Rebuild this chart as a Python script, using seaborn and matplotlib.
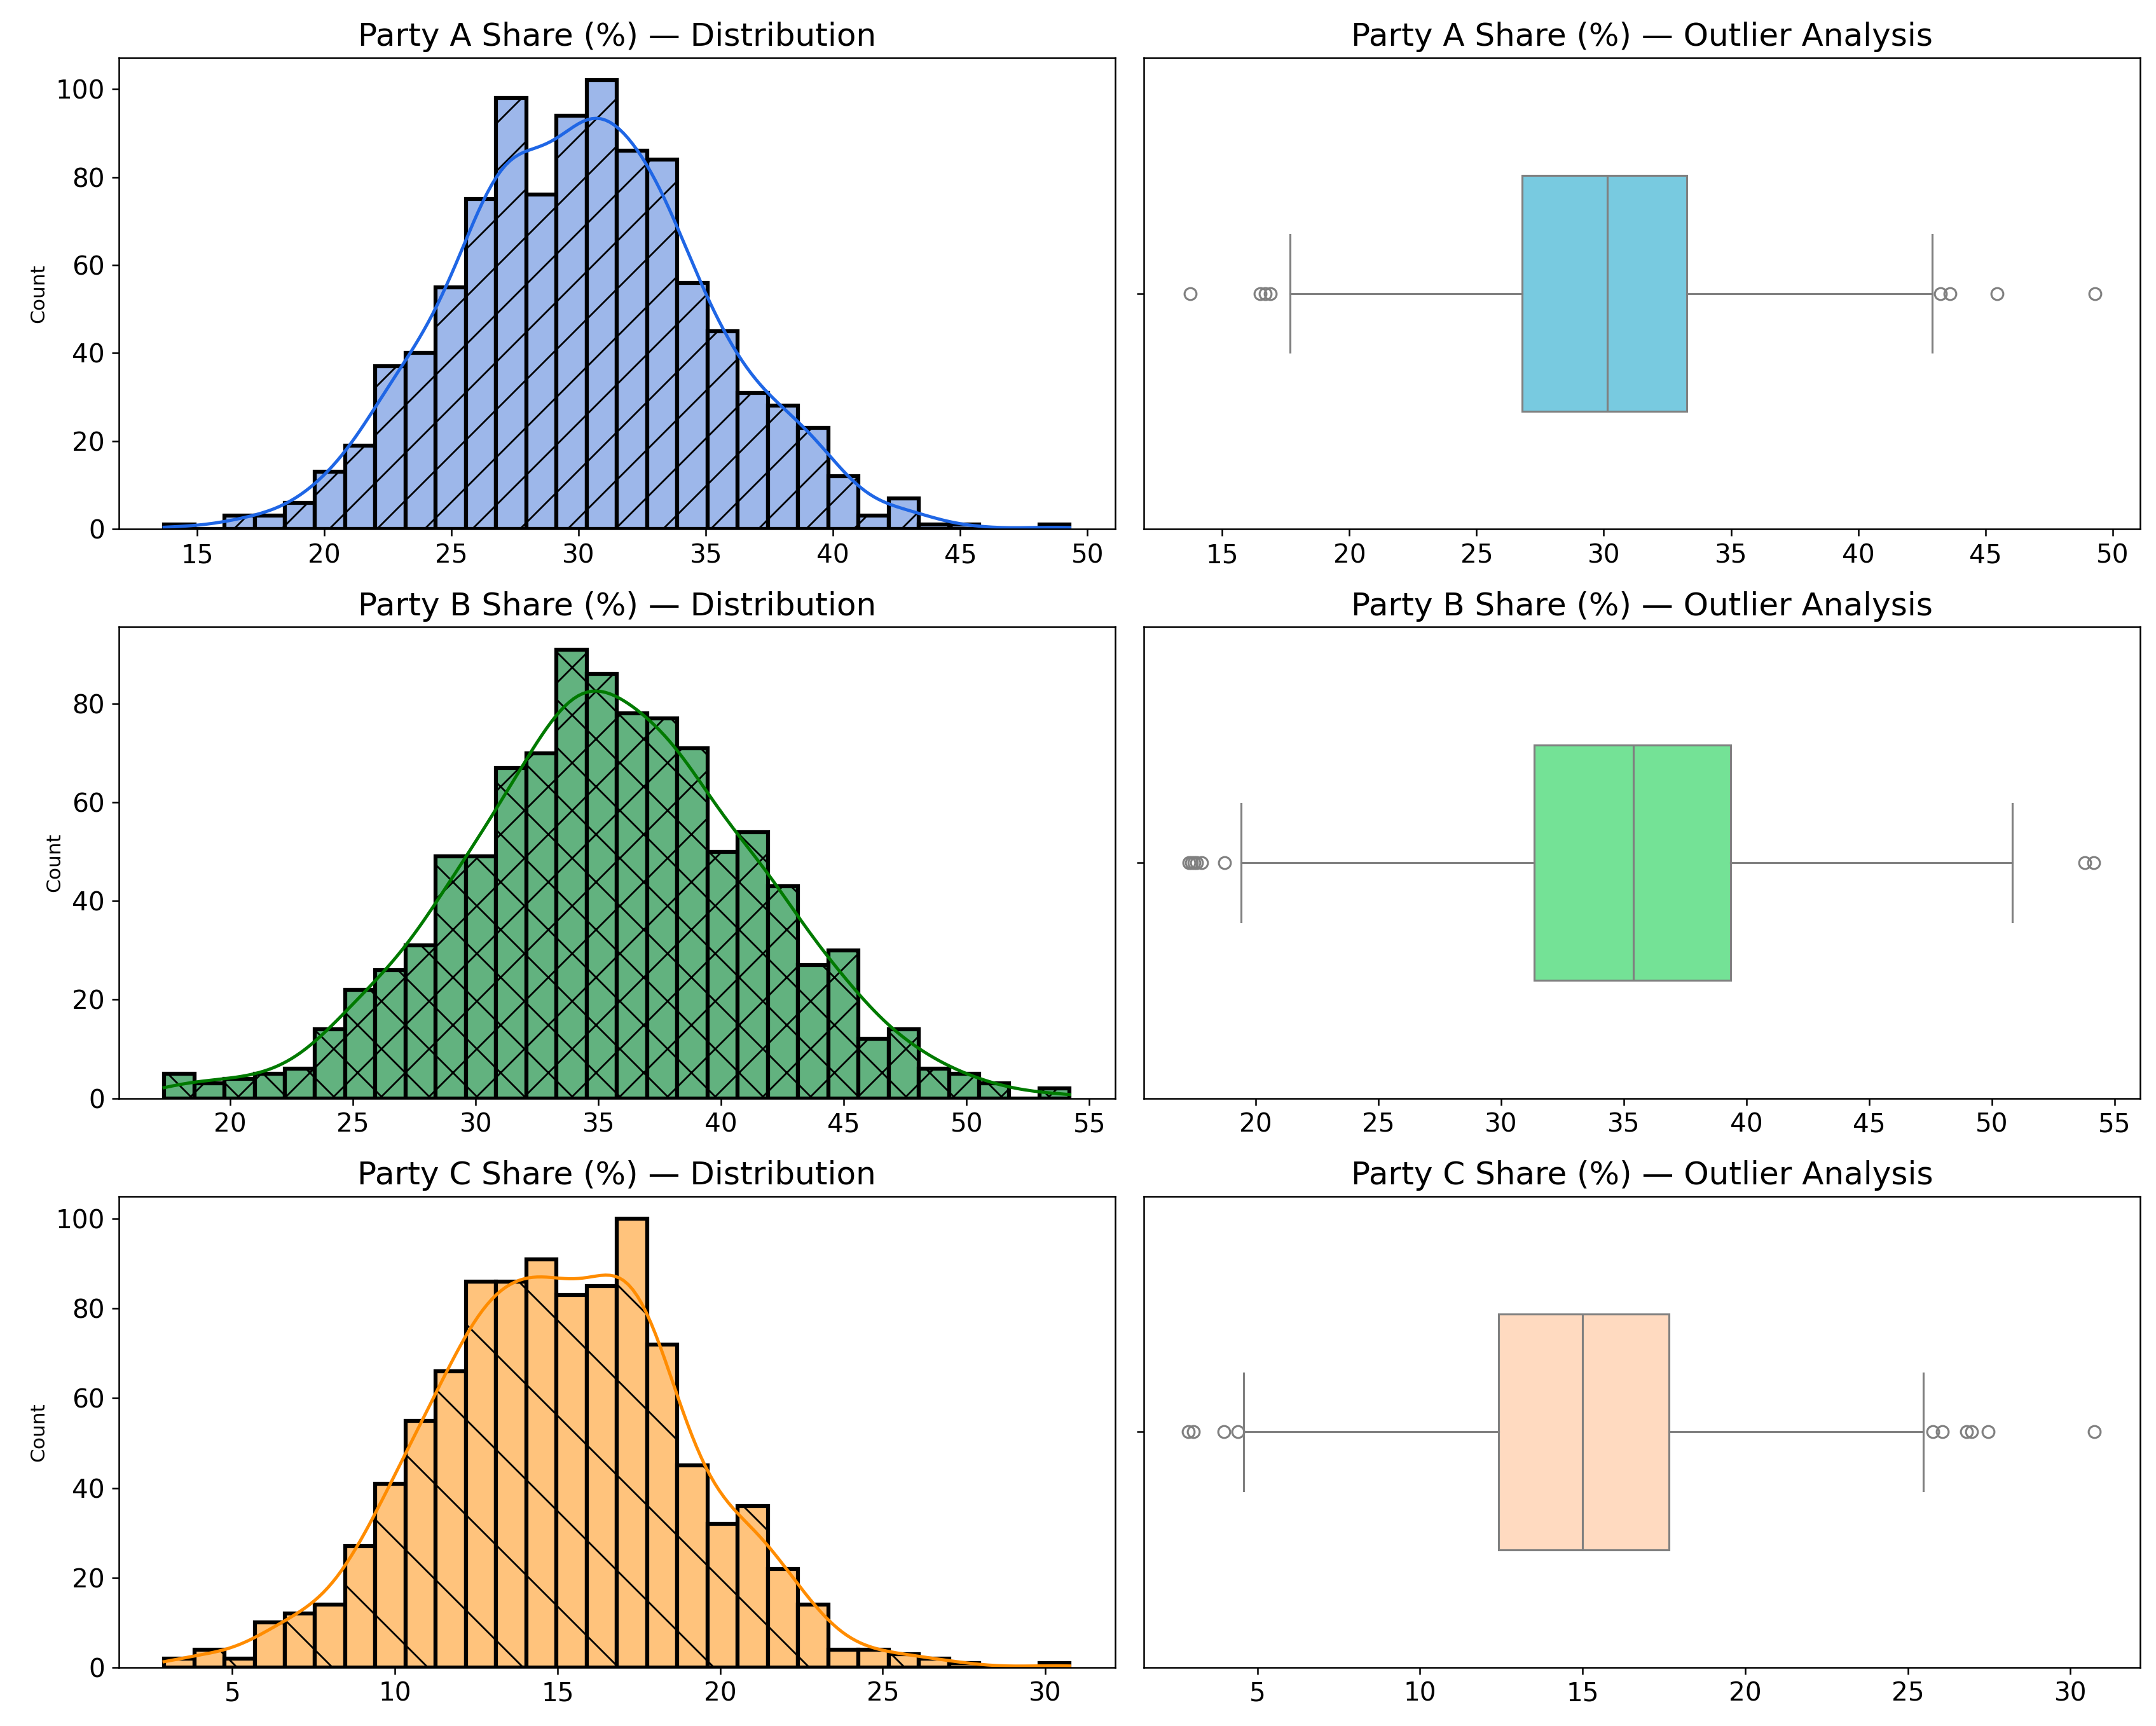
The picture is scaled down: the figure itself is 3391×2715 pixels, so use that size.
import numpy as np
import matplotlib
matplotlib.use('Agg')
import matplotlib.pyplot as plt
import seaborn as sns

# Parteien und Histogramm-Daten (30 Klassen, Werte aus dem Bild gelesen)
parties = ['Party A', 'Party B', 'Party C']

range_a = (13.7, 49.3)
counts_a = [1, 0, 3, 3, 6, 13, 19, 37, 40, 55, 75, 98, 76, 94, 102,
            86, 84, 56, 45, 31, 28, 23, 12, 3, 7, 1, 1, 0, 0, 1]

range_b = (17.3, 54.2)
counts_b = [5, 3, 4, 5, 6, 14, 22, 26, 31, 49, 49, 67, 70, 91, 86,
            78, 77, 71, 50, 54, 43, 27, 30, 12, 14, 6, 5, 3, 0, 2]

range_c = (2.9, 30.75)
counts_c = [2, 4, 2, 10, 12, 14, 27, 41, 55, 66, 86, 86, 91, 83, 85,
            100, 72, 45, 32, 36, 22, 14, 4, 4, 3, 2, 1, 0, 0, 1]

# Boxplot-Kennzahlen
box_a = dict(whislo=17.67, q1=26.78, med=30.13, q3=33.25, whishi=42.9)
fliers_a = [13.75, 16.5, 16.7, 16.9, 43.23, 43.6, 45.46, 49.3]

box_b = dict(whislo=19.42, q1=31.37, med=35.40, q3=39.37, whishi=50.84)
fliers_b = [17.3, 17.4, 17.5, 17.6, 17.8, 18.73, 53.79, 54.16]

box_c = dict(whislo=4.58, q1=12.41, med=15.0, q3=17.65, whishi=25.48)
fliers_c = [2.87, 3.03, 3.96, 4.40, 25.78, 26.06, 26.81, 26.97, 27.47, 30.74]

# Farben / Schraffuren
hist_colors = ['#9db7ea', '#62b27f', '#ffc37c']
kde_colors = ['#1f66e5', '#007a00', '#ff8c00']
box_colors = ['#78cae0', '#74e296', '#ffdac0']
hatches = ['//', 'xx', '\\']

ranges = [range_a, range_b, range_c]
counts = [counts_a, counts_b, counts_c]
boxes = [box_a, box_b, box_c]
fliers = [fliers_a, fliers_b, fliers_c]

DPI = 450
plt.rcParams.update({
    'hatch.linewidth': 0.45,
    'axes.linewidth': 0.4,
    'axes.titlepad': 3,
    'axes.labelpad': 2,
    'xtick.major.size': 1.75, 'ytick.major.size': 1.75,
    'xtick.major.width': 0.4, 'ytick.major.width': 0.4,
    'xtick.major.pad': 1.75, 'ytick.major.pad': 1.75,
})

fig, axes = plt.subplots(3, 2, figsize=(3391 / DPI, 2715 / DPI))
fig.subplots_adjust(left=0.0551, right=0.9926, top=0.9665, bottom=0.0339,
                    wspace=0.029, hspace=0.208)

for i, party in enumerate(parties):
    lo, hi = ranges[i]
    edges = np.linspace(lo, hi, len(counts[i]) + 1)
    centers = (edges[:-1] + edges[1:]) / 2
    values = np.repeat(centers, counts[i])
    pad = 0.05 * (hi - lo)

    # Histogramm mit KDE
    ax = axes[i, 0]
    sns.histplot(x=values, bins=30, binrange=(lo, hi), kde=True,
                 kde_kws={'cut': 1, 'clip': (lo, hi)},
                 color=hist_colors[i], alpha=1, edgecolor='black',
                 linewidth=1.0, hatch=hatches[i], ax=ax)
    ax.lines[0].set_color(kde_colors[i])
    ax.lines[0].set_linewidth(0.8)
    ax.set_title(f'{party} Share (%) — Distribution', fontsize=8)
    ax.set_ylabel('Count', fontsize=5)
    ax.set_xlabel('')
    ax.tick_params(labelsize=6.5)
    ax.set_xlim(lo - pad, hi + pad)

    # Boxplot (Ausreisser)
    ax = axes[i, 1]
    stats = dict(boxes[i])
    stats['fliers'] = fliers[i]
    ax.bxp([stats], positions=[0], widths=0.5, orientation='horizontal',
           patch_artist=True,
           boxprops=dict(facecolor=box_colors[i], edgecolor='#808080', linewidth=0.5),
           medianprops=dict(color='#808080', linewidth=0.5),
           whiskerprops=dict(color='#808080', linewidth=0.5),
           capprops=dict(color='#808080', linewidth=0.5),
           flierprops=dict(marker='o', markerfacecolor='none',
                           markeredgecolor='#808080', markersize=3,
                           markeredgewidth=0.5))
    ax.set_ylim(0.5, -0.5)
    ax.set_yticks([0])
    ax.set_yticklabels([''])
    ax.set_xlim(lo - pad, hi + pad)
    ax.set_title(f'{party} Share (%) — Outlier Analysis', fontsize=8)
    ax.tick_params(labelsize=6.5)

plt.savefig('out.png', dpi=DPI)
